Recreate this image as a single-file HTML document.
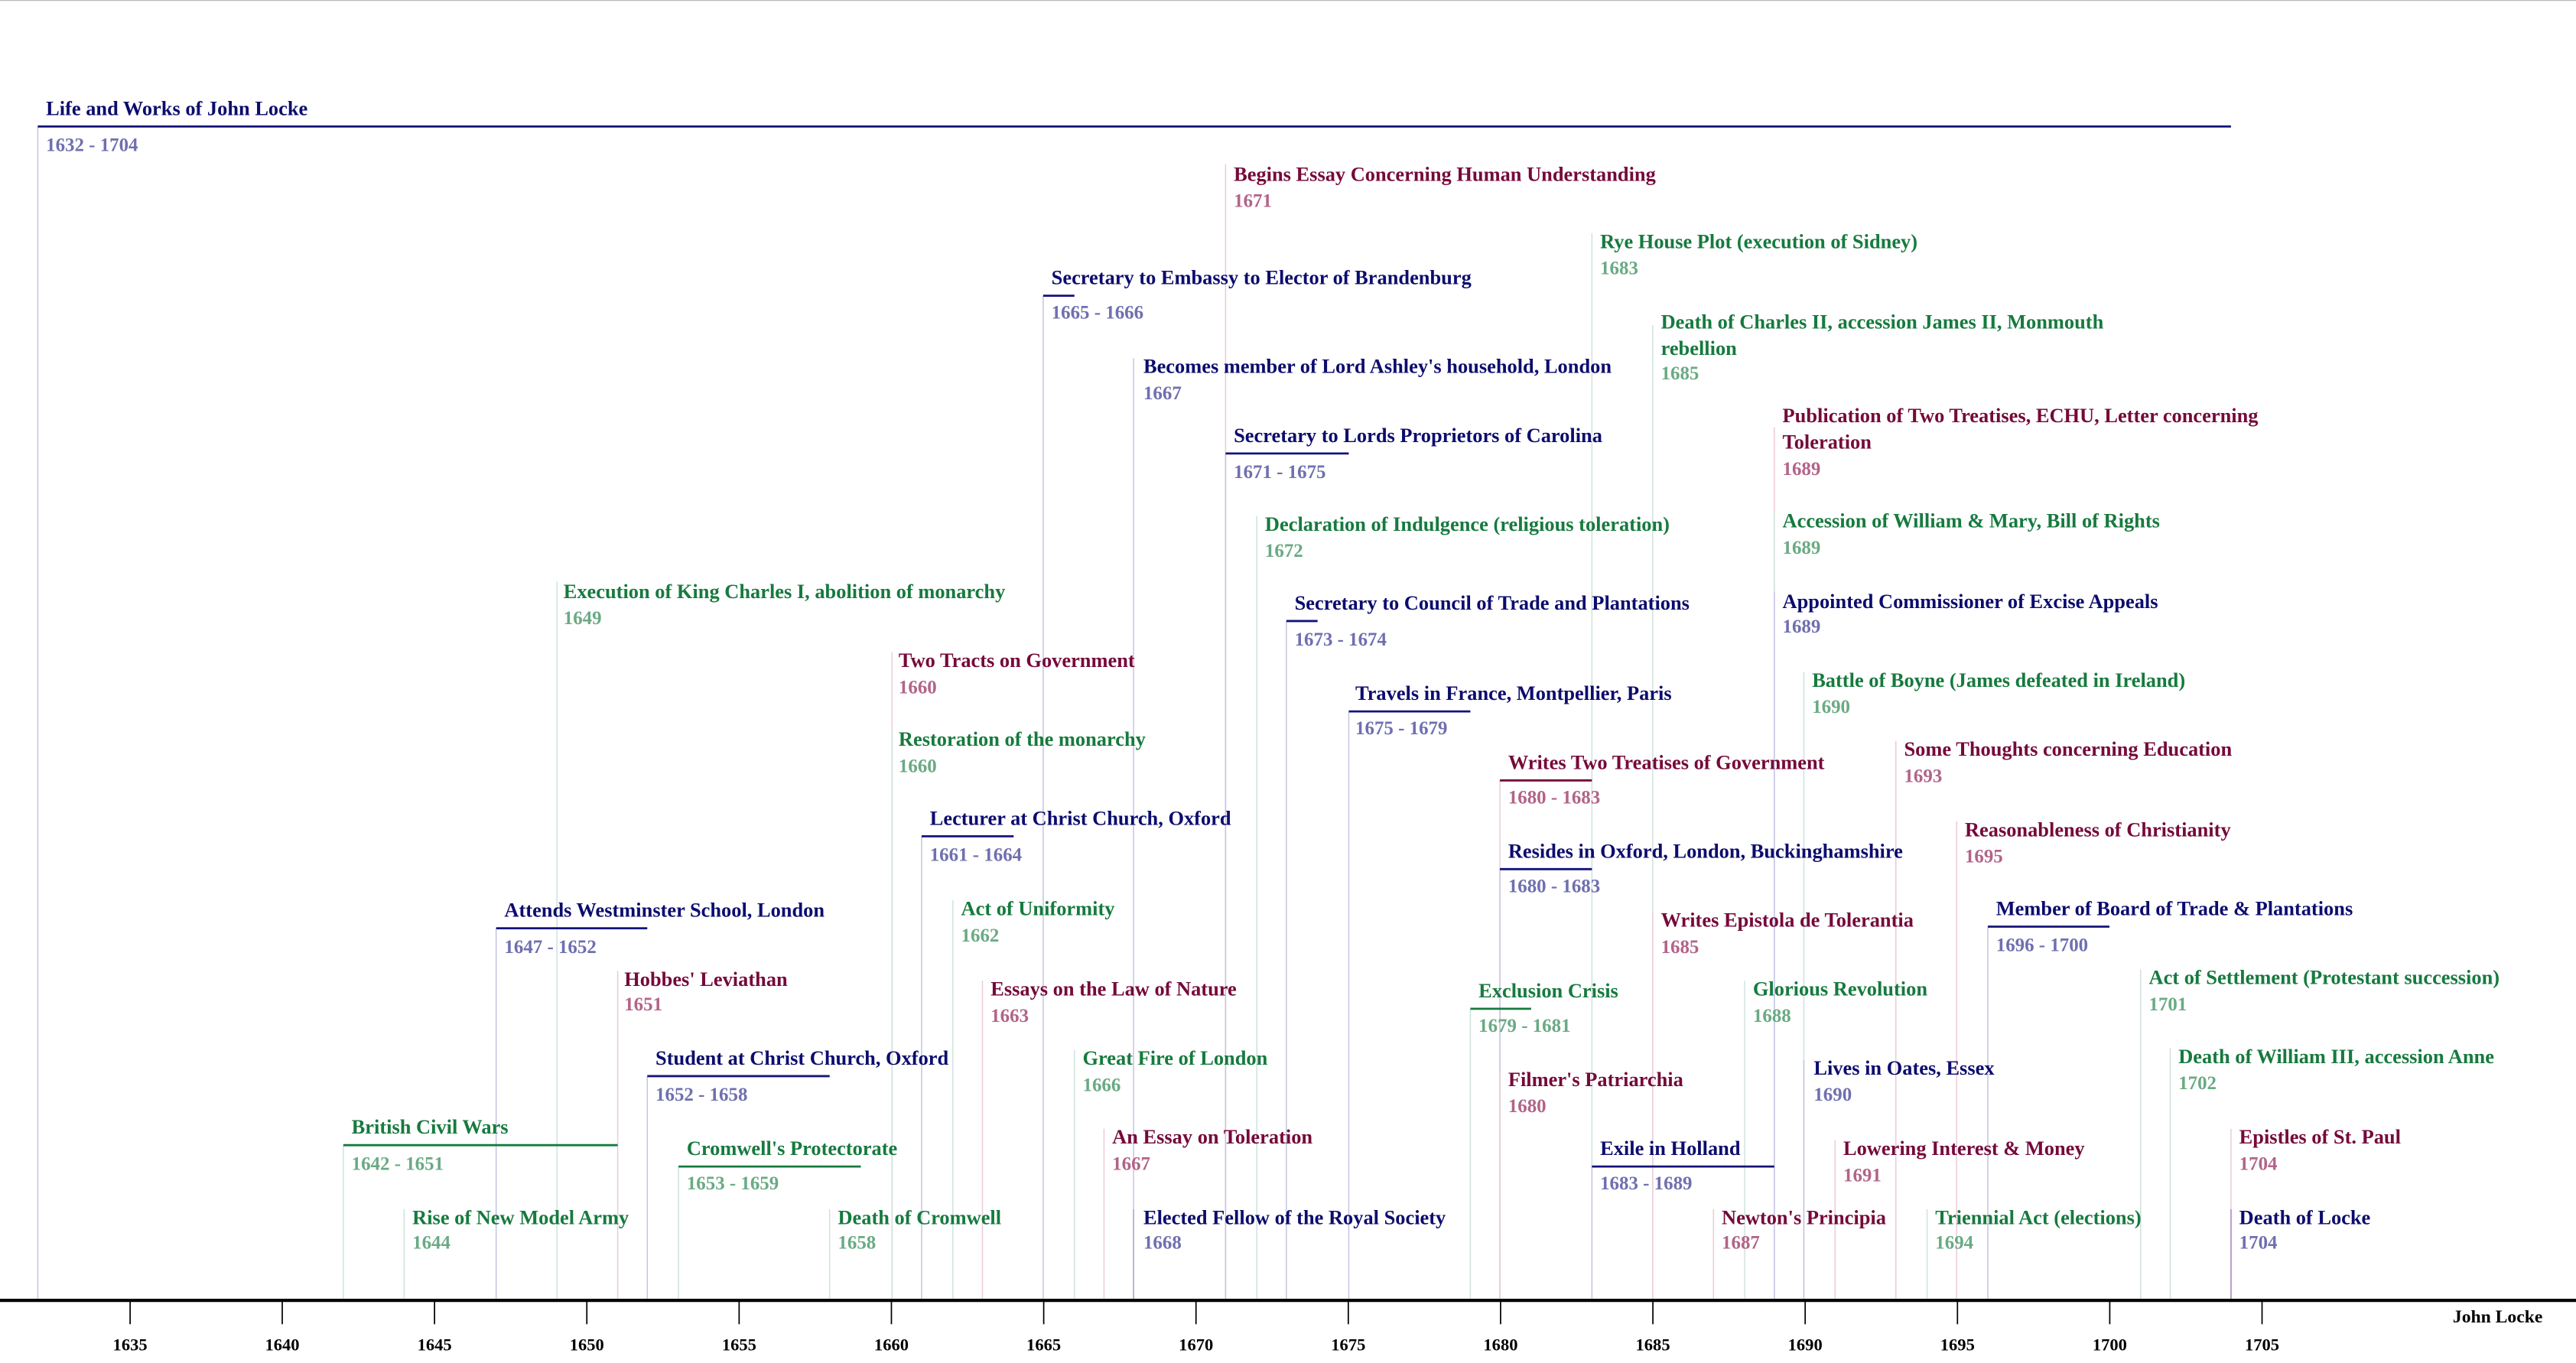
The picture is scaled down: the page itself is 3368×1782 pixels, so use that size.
<!DOCTYPE html>
<html><head><meta charset="utf-8"><style>
html,body{margin:0;padding:0;background:#fff;}
svg{display:block;}
text{font-family:"Liberation Serif",serif;font-weight:bold;}
.nl{fill:#0c0c6e;font-size:12.3px}.nd{fill:#6f6fb0;font-size:11.6px}
.gl{fill:#167a3e;font-size:12.3px}.gd{fill:#6aaa84;font-size:11.6px}
.ml{fill:#75093a;font-size:12.3px}.md{fill:#b26488;font-size:11.6px}
.nv{stroke:#c4c4e2;stroke-width:.7}.gv{stroke:#cfe2dc;stroke-width:.7}.mv{stroke:#ebcbd8;stroke-width:.7}
.nb{stroke:#14147a;stroke-width:1.3}.gb{stroke:#167a3e;stroke-width:1.3}.mb{stroke:#75093a;stroke-width:1.3}
.ax{font-size:10.5px;fill:#000}
</style></head><body>
<svg width="3368" height="1782" viewBox="0 0 1568 829.6" preserveAspectRatio="none">
<rect x="0" y="0" width="1568" height="829.6" fill="#fff"/>
<line x1="0" y1="0.3" x2="1568" y2="0.3" stroke="#bbb" stroke-width=".6"/>
<!-- vertical lines -->
<g>
<line class="nv" x1="23" y1="77" x2="23" y2="791"/>
<line class="mv" x1="746" y1="100" x2="746" y2="791"/>
<line class="gv" x1="969" y1="142" x2="969" y2="791"/>
<line class="nv" x1="635" y1="180" x2="635" y2="791"/>
<line class="gv" x1="1006" y1="198" x2="1006" y2="791"/>
<line class="nv" x1="690" y1="218" x2="690" y2="791"/>
<line class="nv" x1="746" y1="276" x2="746" y2="791"/>
<line class="mv" x1="1080" y1="260" x2="1080" y2="791"/>
<line class="gv" x1="765" y1="314" x2="765" y2="791"/>
<line class="gv" x1="1080" y1="312" x2="1080" y2="791"/>
<line class="gv" x1="339" y1="354" x2="339" y2="791"/>
<line class="nv" x1="783" y1="378" x2="783" y2="791"/>
<line class="nv" x1="1080" y1="360" x2="1080" y2="791"/>
<line class="mv" x1="543" y1="397" x2="543" y2="791"/>
<line class="gv" x1="1098" y1="409" x2="1098" y2="791"/>
<line class="nv" x1="821" y1="433" x2="821" y2="791"/>
<line class="gv" x1="543" y1="445" x2="543" y2="791"/>
<line class="mv" x1="1154" y1="451" x2="1154" y2="791"/>
<line class="mv" x1="913" y1="475" x2="913" y2="791"/>
<line class="nv" x1="561" y1="509" x2="561" y2="791"/>
<line class="mv" x1="1191" y1="500" x2="1191" y2="791"/>
<line class="nv" x1="913" y1="529" x2="913" y2="791"/>
<line class="gv" x1="580" y1="548" x2="580" y2="791"/>
<line class="nv" x1="302" y1="565" x2="302" y2="791"/>
<line class="nv" x1="1210" y1="564" x2="1210" y2="791"/>
<line class="mv" x1="1006" y1="555" x2="1006" y2="791"/>
<line class="mv" x1="376" y1="591" x2="376" y2="791"/>
<line class="mv" x1="598" y1="597" x2="598" y2="791"/>
<line class="gv" x1="895" y1="614" x2="895" y2="791"/>
<line class="gv" x1="1062" y1="597" x2="1062" y2="791"/>
<line class="gv" x1="1303" y1="590" x2="1303" y2="791"/>
<line class="nv" x1="394" y1="655" x2="394" y2="791"/>
<line class="gv" x1="654" y1="639" x2="654" y2="791"/>
<line class="gv" x1="1321" y1="638" x2="1321" y2="791"/>
<line class="mv" x1="913" y1="652" x2="913" y2="791"/>
<line class="nv" x1="1098" y1="645" x2="1098" y2="791"/>
<line class="gv" x1="209" y1="697" x2="209" y2="791"/>
<line class="mv" x1="672" y1="687" x2="672" y2="791"/>
<line class="gv" x1="413" y1="710" x2="413" y2="791"/>
<line class="nv" x1="969" y1="710" x2="969" y2="791"/>
<line class="mv" x1="1117" y1="694" x2="1117" y2="791"/>
<line class="mv" x1="1358" y1="687" x2="1358" y2="791"/>
<line class="gv" x1="246" y1="736" x2="246" y2="791"/>
<line class="gv" x1="505" y1="736" x2="505" y2="791"/>
<line class="nv" x1="690" y1="736" x2="690" y2="791" style="stroke:#a8a8d4"/>
<line class="mv" x1="1043" y1="736" x2="1043" y2="791"/>
<line class="gv" x1="1173" y1="736" x2="1173" y2="791"/>
<line class="nv" x1="1358" y1="736" x2="1358" y2="791" style="stroke:#9c8cc0"/>
</g>
<!-- bars -->
<line class="nb" x1="23" y1="77" x2="1358" y2="77"/>
<line class="nb" x1="635" y1="180" x2="654" y2="180"/>
<line class="nb" x1="746" y1="276" x2="821" y2="276"/>
<line class="nb" x1="783" y1="378" x2="802" y2="378"/>
<line class="nb" x1="821" y1="433" x2="895" y2="433"/>
<line class="mb" x1="913" y1="475" x2="969" y2="475"/>
<line class="nb" x1="561" y1="509" x2="617" y2="509"/>
<line class="nb" x1="913" y1="529" x2="969" y2="529"/>
<line class="nb" x1="302" y1="565" x2="394" y2="565"/>
<line class="nb" x1="1210" y1="564" x2="1284" y2="564"/>
<line class="gb" x1="895" y1="614" x2="932" y2="614"/>
<line class="nb" x1="394" y1="655" x2="505" y2="655"/>
<line class="gb" x1="209" y1="697" x2="376" y2="697"/>
<line class="gb" x1="413" y1="710" x2="524" y2="710"/>
<line class="nb" x1="969" y1="710" x2="1080" y2="710"/>
<!-- labels -->
<g>
<text class="nl" x="28" y="70">Life and Works of John Locke</text><text class="nd" x="28" y="92">1632 - 1704</text>
<text class="ml" x="751" y="110">Begins Essay Concerning Human Understanding</text><text class="md" x="751" y="126">1671</text>
<text class="gl" x="974" y="151">Rye House Plot (execution of Sidney)</text><text class="gd" x="974" y="167">1683</text>
<text class="nl" x="640" y="173">Secretary to Embassy to Elector of Brandenburg</text><text class="nd" x="640" y="194">1665 - 1666</text>
<text class="gl" x="1011" y="200">Death of Charles II, accession James II, Monmouth</text><text class="gl" x="1011" y="216">rebellion</text><text class="gd" x="1011" y="231">1685</text>
<text class="nl" x="696" y="227">Becomes member of Lord Ashley's household, London</text><text class="nd" x="696" y="243">1667</text>
<text class="nl" x="751" y="269">Secretary to Lords Proprietors of Carolina</text><text class="nd" x="751" y="291">1671 - 1675</text>
<text class="ml" x="1085" y="257">Publication of Two Treatises, ECHU, Letter concerning</text><text class="ml" x="1085" y="273">Toleration</text><text class="md" x="1085" y="289">1689</text>
<text class="gl" x="770" y="323">Declaration of Indulgence (religious toleration)</text><text class="gd" x="770" y="339">1672</text>
<text class="gl" x="1085" y="321">Accession of William &amp; Mary, Bill of Rights</text><text class="gd" x="1085" y="337">1689</text>
<text class="gl" x="343" y="364">Execution of King Charles I, abolition of monarchy</text><text class="gd" x="343" y="380">1649</text>
<text class="nl" x="788" y="371">Secretary to Council of Trade and Plantations</text><text class="nd" x="788" y="393">1673 - 1674</text>
<text class="nl" x="1085" y="370">Appointed Commissioner of Excise Appeals</text><text class="nd" x="1085" y="385">1689</text>
<text class="ml" x="547" y="406">Two Tracts on Government</text><text class="md" x="547" y="422">1660</text>
<text class="gl" x="1103" y="418">Battle of Boyne (James defeated in Ireland)</text><text class="gd" x="1103" y="434">1690</text>
<text class="nl" x="825" y="426">Travels in France, Montpellier, Paris</text><text class="nd" x="825" y="447">1675 - 1679</text>
<text class="gl" x="547" y="454">Restoration of the monarchy</text><text class="gd" x="547" y="470">1660</text>
<text class="ml" x="1159" y="460">Some Thoughts concerning Education</text><text class="md" x="1159" y="476">1693</text>
<text class="ml" x="918" y="468">Writes Two Treatises of Government</text><text class="md" x="918" y="489">1680 - 1683</text>
<text class="nl" x="566" y="502">Lecturer at Christ Church, Oxford</text><text class="nd" x="566" y="524">1661 - 1664</text>
<text class="ml" x="1196" y="509">Reasonableness of Christianity</text><text class="md" x="1196" y="525">1695</text>
<text class="nl" x="918" y="522">Resides in Oxford, London, Buckinghamshire</text><text class="nd" x="918" y="543">1680 - 1683</text>
<text class="gl" x="585" y="557">Act of Uniformity</text><text class="gd" x="585" y="573">1662</text>
<text class="nl" x="307" y="558">Attends Westminster School, London</text><text class="nd" x="307" y="580">1647 - 1652</text>
<text class="nl" x="1215" y="557">Member of Board of Trade &amp; Plantations</text><text class="nd" x="1215" y="579">1696 - 1700</text>
<text class="ml" x="1011" y="564">Writes Epistola de Tolerantia</text><text class="md" x="1011" y="580">1685</text>
<text class="ml" x="380" y="600">Hobbes' Leviathan</text><text class="md" x="380" y="615">1651</text>
<text class="ml" x="603" y="606">Essays on the Law of Nature</text><text class="md" x="603" y="622">1663</text>
<text class="gl" x="900" y="607">Exclusion Crisis</text><text class="gd" x="900" y="628">1679 - 1681</text>
<text class="gl" x="1067" y="606">Glorious Revolution</text><text class="gd" x="1067" y="622">1688</text>
<text class="gl" x="1308" y="599">Act of Settlement (Protestant succession)</text><text class="gd" x="1308" y="615">1701</text>
<text class="nl" x="399" y="648">Student at Christ Church, Oxford</text><text class="nd" x="399" y="670">1652 - 1658</text>
<text class="gl" x="659" y="648">Great Fire of London</text><text class="gd" x="659" y="664">1666</text>
<text class="gl" x="1326" y="647">Death of William III, accession Anne</text><text class="gd" x="1326" y="663">1702</text>
<text class="ml" x="918" y="661">Filmer's Patriarchia</text><text class="md" x="918" y="677">1680</text>
<text class="nl" x="1104" y="654">Lives in Oates, Essex</text><text class="nd" x="1104" y="670">1690</text>
<text class="gl" x="214" y="690">British Civil Wars</text><text class="gd" x="214" y="712">1642 - 1651</text>
<text class="ml" x="677" y="696">An Essay on Toleration</text><text class="md" x="677" y="712">1667</text>
<text class="gl" x="418" y="703">Cromwell's Protectorate</text><text class="gd" x="418" y="724">1653 - 1659</text>
<text class="nl" x="974" y="703">Exile in Holland</text><text class="nd" x="974" y="724">1683 - 1689</text>
<text class="ml" x="1122" y="703">Lowering Interest &amp; Money</text><text class="md" x="1122" y="719">1691</text>
<text class="ml" x="1363" y="696">Epistles of St. Paul</text><text class="md" x="1363" y="712">1704</text>
<text class="gl" x="251" y="745">Rise of New Model Army</text><text class="gd" x="251" y="760">1644</text>
<text class="gl" x="510" y="745">Death of Cromwell</text><text class="gd" x="510" y="760">1658</text>
<text class="nl" x="696" y="745">Elected Fellow of the Royal Society</text><text class="nd" x="696" y="760">1668</text>
<text class="ml" x="1048" y="745">Newton's Principia</text><text class="md" x="1048" y="760">1687</text>
<text class="gl" x="1178" y="745">Triennial Act (elections)</text><text class="gd" x="1178" y="760">1694</text>
<text class="nl" x="1363" y="745">Death of Locke</text><text class="nd" x="1363" y="760">1704</text>
</g>
<!-- axis -->
<line x1="0" y1="791.5" x2="1568" y2="791.5" stroke="#000" stroke-width="2"/>
<g stroke="#000" stroke-width=".8">
<line x1="79.2" y1="792" x2="79.2" y2="806"/><line x1="171.8" y1="792" x2="171.8" y2="806"/>
<line x1="264.5" y1="792" x2="264.5" y2="806"/><line x1="357.2" y1="792" x2="357.2" y2="806"/>
<line x1="449.9" y1="792" x2="449.9" y2="806"/><line x1="542.6" y1="792" x2="542.6" y2="806"/>
<line x1="635.3" y1="792" x2="635.3" y2="806"/><line x1="728" y1="792" x2="728" y2="806"/>
<line x1="820.7" y1="792" x2="820.7" y2="806"/><line x1="913.4" y1="792" x2="913.4" y2="806"/>
<line x1="1006.1" y1="792" x2="1006.1" y2="806"/><line x1="1098.8" y1="792" x2="1098.8" y2="806"/>
<line x1="1191.5" y1="792" x2="1191.5" y2="806"/><line x1="1284.2" y1="792" x2="1284.2" y2="806"/>
<line x1="1376.9" y1="792" x2="1376.9" y2="806"/>
</g>
<g class="ax" text-anchor="middle">
<text class="ax" x="79.2" y="822">1635</text><text class="ax" x="171.8" y="822">1640</text>
<text class="ax" x="264.5" y="822">1645</text><text class="ax" x="357.2" y="822">1650</text>
<text class="ax" x="449.9" y="822">1655</text><text class="ax" x="542.6" y="822">1660</text>
<text class="ax" x="635.3" y="822">1665</text><text class="ax" x="728" y="822">1670</text>
<text class="ax" x="820.7" y="822">1675</text><text class="ax" x="913.4" y="822">1680</text>
<text class="ax" x="1006.1" y="822">1685</text><text class="ax" x="1098.8" y="822">1690</text>
<text class="ax" x="1191.5" y="822">1695</text><text class="ax" x="1284.2" y="822">1700</text>
<text class="ax" x="1376.9" y="822">1705</text>
</g>
<text class="ax" x="1493" y="805" style="font-size:11px">John Locke</text>
</svg>
</body></html>
